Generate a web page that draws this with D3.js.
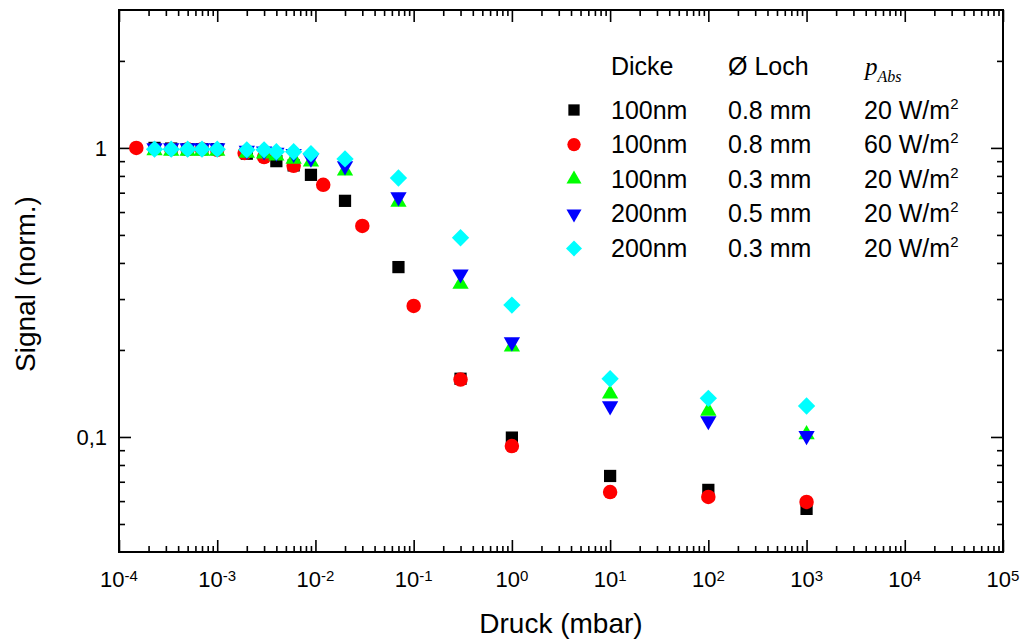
<!DOCTYPE html>
<html>
<head>
<meta charset="utf-8">
<script src="https://cdn.jsdelivr.net/npm/d3@7"></script>
<style>
  body { margin: 0; background: #fff; }
  text { font-family: "Liberation Sans", Arial, sans-serif; fill: #000; }
</style>
</head>
<body>
<svg id="chart"></svg>
<script>
// axis ticks
let xExponents = [-4, -3, -2, -1, 0, 1, 2, 3, 4, 5]
let yMajor = [0.1, 1]
let yMajorLabels = ["0,1", "1"]
let yMinor = [0.05, 0.06, 0.07, 0.08, 0.09, 0.2, 0.3, 0.4, 0.5, 0.6, 0.7, 0.8, 0.9, 2]

// series (pressure in mbar, normalised signal)
let pBlack = [2.3e-4, 3.4e-4, 5e-4, 7e-4, 1e-3, 2e-3, 4e-3, 6e-3, 9e-3, 0.02, 0.07, 0.3, 1, 10, 100, 1000]
let sBlack = [1.0, 0.995, 0.99, 0.99, 0.99, 0.955, 0.90, 0.87, 0.807, 0.656, 0.387, 0.159, 0.0995, 0.0733, 0.0656, 0.0564]

let pRed = [1.5e-4, 3.4e-4, 5e-4, 7e-4, 1e-3, 1.9e-3, 3e-3, 6e-3, 0.012, 0.03, 0.1, 0.3, 1, 10, 100, 1000]
let sRed = [1.0, 0.99, 0.99, 0.99, 0.985, 0.96, 0.93, 0.867, 0.745, 0.537, 0.284, 0.158, 0.093, 0.0645, 0.062, 0.0596]

let pGreen = [2.3e-4, 3.4e-4, 5e-4, 7e-4, 1e-3, 2e-3, 3e-3, 4e-3, 6e-3, 9e-3, 0.02, 0.07, 0.3, 1, 10, 100, 1000]
let sGreen = [0.98, 0.975, 0.975, 0.975, 0.975, 0.96, 0.955, 0.94, 0.916, 0.895, 0.833, 0.65, 0.338, 0.205, 0.141, 0.123, 0.102]

let pBlue = [2.3e-4, 3.4e-4, 5e-4, 7e-4, 1e-3, 2e-3, 3e-3, 4e-3, 6e-3, 9e-3, 0.02, 0.07, 0.3, 1, 10, 100, 1000]
let sBlue = [1.0, 1.0, 1.0, 1.0, 1.0, 0.98, 0.975, 0.965, 0.955, 0.92, 0.866, 0.676, 0.366, 0.213, 0.128, 0.1136, 0.101]

let pCyan = [2.3e-4, 3.4e-4, 5e-4, 7e-4, 1e-3, 2e-3, 3e-3, 4e-3, 6e-3, 9e-3, 0.02, 0.07, 0.3, 1, 10, 100, 1000]
let sCyan = [0.99, 0.99, 0.99, 0.99, 0.99, 0.985, 0.985, 0.97, 0.97, 0.955, 0.916, 0.787, 0.489, 0.286, 0.159, 0.136, 0.128]

// legend columns
let dicke = ["100nm", "100nm", "100nm", "200nm", "200nm"]
let loch = ["0.8 mm", "0.8 mm", "0.3 mm", "0.5 mm", "0.3 mm"]
let pAbs = ["20", "60", "20", "20", "20"]

let w = 1026
let h = 639
let pLeft = 119, pRight = 1003, pTop = 10, pBottom = 552

let svg = d3.select("#chart").attr("width", w).attr("height", h)

let xScale = d3.scaleLog().domain([1e-4, 1e5]).range([pLeft, pRight])
let yScale = d3.scaleLog().domain([0.04, 3]).range([pBottom, pTop])

let xMajor = xExponents.map(e => Math.pow(10, e))
let xMinor = []
xExponents.slice(0, -1).forEach(e => {
  for (let k = 2; k <= 9; k++) xMinor.push(k * Math.pow(10, e))
})

let styleAxis = (g) => {
  g.select(".domain").remove()
  g.selectAll("line").attr("stroke", "#000").attr("stroke-width", 1.6)
  g.selectAll("text").remove()
}

// ticks on all four sides, pointing inward
svg.append("g").attr("transform", `translate(0,${pBottom})`)
   .call(d3.axisBottom(xScale).tickValues(xMajor).tickSize(-12)).call(styleAxis)
svg.append("g").attr("transform", `translate(0,${pBottom})`)
   .call(d3.axisBottom(xScale).tickValues(xMinor).tickSize(-6)).call(styleAxis)
svg.append("g").attr("transform", `translate(0,${pTop})`)
   .call(d3.axisTop(xScale).tickValues(xMajor).tickSize(-12)).call(styleAxis)
svg.append("g").attr("transform", `translate(0,${pTop})`)
   .call(d3.axisTop(xScale).tickValues(xMinor).tickSize(-6)).call(styleAxis)

svg.append("g").attr("transform", `translate(${pLeft},0)`)
   .call(d3.axisLeft(yScale).tickValues(yMajor).tickSize(-12)).call(styleAxis)
svg.append("g").attr("transform", `translate(${pLeft},0)`)
   .call(d3.axisLeft(yScale).tickValues(yMinor).tickSize(-6)).call(styleAxis)
svg.append("g").attr("transform", `translate(${pRight},0)`)
   .call(d3.axisRight(yScale).tickValues(yMajor).tickSize(-12)).call(styleAxis)
svg.append("g").attr("transform", `translate(${pRight},0)`)
   .call(d3.axisRight(yScale).tickValues(yMinor).tickSize(-6)).call(styleAxis)

svg.append("rect")
   .attr("x", pLeft).attr("y", pTop)
   .attr("width", pRight - pLeft).attr("height", pBottom - pTop)
   .attr("fill", "none").attr("stroke", "#000").attr("stroke-width", 2)

// x tick labels 10^n
let xl = svg.selectAll(".xlab").data(xExponents).enter()
   .append("text")
   .attr("class", "xlab")
   .attr("x", d => xScale(Math.pow(10, d)))
   .attr("y", 587)
   .attr("text-anchor", "middle")
   .style("font-size", "22px")
xl.append("tspan").text("10")
xl.append("tspan").attr("dy", -6).style("font-size", "15px").text(d => d < 0 ? "-" + (-d) : d)

// y tick labels
svg.selectAll(".ylab").data(yMajor).enter()
   .append("text")
   .attr("x", 107)
   .attr("y", d => yScale(d) + 8)
   .attr("text-anchor", "end")
   .style("font-size", "22px")
   .text((d, i) => yMajorLabels[i])

// axis titles
svg.append("text")
   .attr("x", 561).attr("y", 633)
   .attr("text-anchor", "middle")
   .style("font-size", "28px")
   .text("Druck (mbar)")

svg.append("text")
   .attr("transform", "translate(35,284) rotate(-90)")
   .attr("text-anchor", "middle")
   .style("font-size", "28px")
   .text("Signal (norm.)")

// markers
let series = [
  { p: pBlack, s: sBlack, color: "#000000", type: d3.symbolSquare, size: 150, rot: 0 },
  { p: pRed, s: sRed, color: "#ff0000", type: d3.symbolCircle, size: 165, rot: 0 },
  { p: pGreen, s: sGreen, color: "#00ff00", type: d3.symbolTriangle, size: 115, rot: 0 },
  { p: pBlue, s: sBlue, color: "#0000ff", type: d3.symbolTriangle, size: 115, rot: 180 },
  { p: pCyan, s: sCyan, color: "#00ffff", type: d3.symbolSquare, size: 150, rot: 45 }
]

series.forEach(ser => {
  let pts = ser.p.map((v, i) => [v, ser.s[i]])
  svg.append("g").selectAll("path")
     .data(pts)
     .enter()
     .append("path")
     .attr("d", d3.symbol().type(ser.type).size(ser.size))
     .attr("transform", d => `translate(${xScale(d[0])},${yScale(d[1])}) rotate(${ser.rot})`)
     .attr("fill", ser.color)
})

// legend
let lg = svg.append("g")
let rowY = (i) => 110 + i * 34.6

let header = lg.append("g").style("font-size", "25px")
header.append("text").attr("x", 611).attr("y", 75).text("Dicke")
header.append("text").attr("x", 728).attr("y", 75).text("Ø Loch")
let pt = header.append("text").attr("x", 865).attr("y", 75)
   .style("font-family", "'Liberation Serif', serif").style("font-style", "italic")
pt.append("tspan").text("p")
pt.append("tspan").attr("dy", 7).style("font-size", "16px").text("Abs")

series.forEach((ser, i) => {
  lg.append("path")
    .attr("d", d3.symbol().type(ser.type).size(ser.size * 0.85))
    .attr("transform", `translate(574,${rowY(i)}) rotate(${ser.rot})`)
    .attr("fill", ser.color)
})

lg.selectAll(".c1").data(dicke).enter().append("text")
  .attr("x", 611).attr("y", (d, i) => rowY(i) + 8.5)
  .style("font-size", "25px").text(d => d)
lg.selectAll(".c2").data(loch).enter().append("text")
  .attr("x", 728).attr("y", (d, i) => rowY(i) + 8.5)
  .style("font-size", "25px").text(d => d)
let c3 = lg.selectAll(".c3").data(pAbs).enter().append("text")
  .attr("x", 864).attr("y", (d, i) => rowY(i) + 8.5)
  .style("font-size", "25px")
c3.append("tspan").text(d => d + " W/m")
c3.append("tspan").attr("dy", -10).style("font-size", "15px").text("2")
</script>
</body>
</html>
